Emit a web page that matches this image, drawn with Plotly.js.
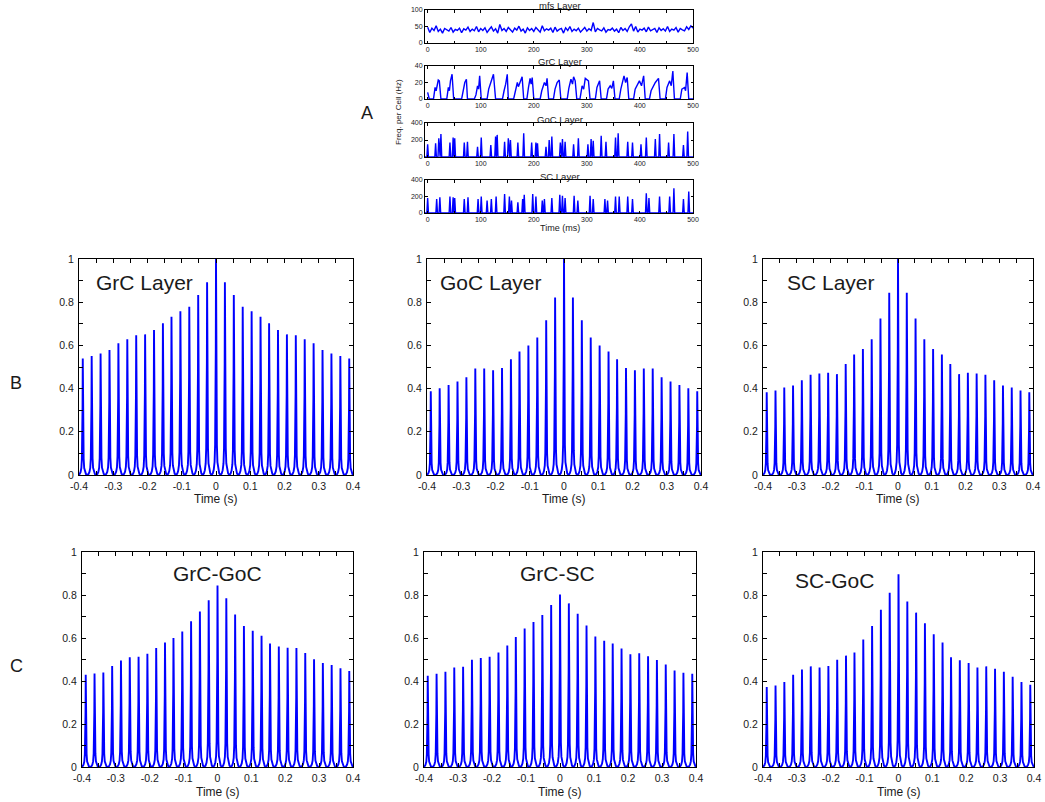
<!DOCTYPE html>
<html>
<head>
<meta charset="utf-8">
<script src="https://cdn.plot.ly/plotly-3.0.1.min.js"></script>
<style>html,body{margin:0;padding:0;background:#fff;}#chart{width:1045px;height:802px;}</style>
</head>
<body>
<div id="chart"></div>
<script>
// ---------------- DATA ----------------
// Panel A: mossy fibre input (Hz), sampled every 4 ms from 0 to 500 ms
const mfsSampleMs = 4;
const mfsRate = [48,32,45,38,52,35,42,30,44,40,36,47,33,41,38,45,31,43,39,48,35,42,37,50,34,44,
  38,46,32,41,49,36,43,30,56,38,44,35,47,40,33,45,39,51,36,42,30,46,38,44,35,
  47,40,33,52,37,43,39,45,32,48,36,41,44,30,46,38,50,35,42,37,45,33,40,47,36,
  43,38,62,34,44,40,37,46,33,41,39,45,36,42,31,47,38,44,35,49,58,36,50,33,42,
  39,45,34,48,37,41,44,32,46,38,43,36,50,35,42,39,47,33,44,40,37,49,41,52,45];

// Panel A: GrC layer population rate (vertex times in ms, rates in Hz)
const grcTimes = [0,3, 11,14,16,18,20,22,25, 36,39,41,43,46,47,49, 64,67,70,73,75, 88,91,94,96,98,101,
  112,115,119,124,128, 141,144,147,150,152, 162,165,169,171,175,178,181, 187,190,193,195,197,200,
  212,215,220,223,225,228, 237,240,244,248,251, 263,266,270,273,275,278,281, 287,291,294,297,303,306,
  316,319,324,327, 337,340,344,347,350,353, 361,364,370,373,376,379, 388,391,396,399,403,407,410,
  418,421,425,429,435,438, 448,451,456,459,462,465, 476,479,484,486,489,492, 500];
const grcRates = [8,0, 0,14,10,20,23,22,0, 0,14,10,22,30,12,0, 0,10,20,24,0, 0,5,16,12,28,0,
  0,12,20,30,0, 0,10,18,30,0, 0,10,20,15,22,27,0, 0,14,25,18,26,0,
  0,10,20,16,25,0, 0,12,20,23,0, 0,13,24,18,27,22,0, 0,16,12,25,22,0,
  0,14,22,0, 0,12,16,13,22,0, 0,12,28,20,26,0, 0,12,18,22,16,28,0,
  0,10,16,20,25,0, 0,14,22,16,34,0, 0,12,14,10,32,0, 0];

// Panel A: GoC layer spikes (ms, Hz)
const gocSpikeTimes = [0,15,21,25,42,48,51,69,75,94,101,119,128,131,145,152,156,170,181,196,204,207,223,229,234,250,254,259,275,284,302,308,312,327,336,354,359,377,386,402,412,429,437,454,464,482,490];
const gocSpikeRates = [150,160,220,270,170,230,220,170,180,120,230,140,240,260,180,220,200,170,280,170,170,160,120,200,240,170,210,180,150,220,150,210,190,250,180,230,280,180,170,150,230,210,270,170,270,140,300];

// Panel A: SC layer spikes (ms, Hz)
const scSpikeTimes = [0,17,23,42,48,51,69,76,95,101,112,120,129,145,154,158,170,179,182,198,204,216,220,234,249,254,259,276,283,306,312,334,339,354,361,377,386,412,417,437,456,464,482,492];
const scSpikeRates = [180,170,190,200,190,180,170,190,170,200,150,170,200,230,200,150,130,170,220,230,200,150,170,180,220,210,180,210,150,210,170,170,150,200,200,200,170,240,180,200,200,300,170,260];

// Panels B/C: correlogram peak lags (s)
const peakLags = [-0.389,-0.363,-0.337,-0.311,-0.285,-0.259,-0.233,-0.207,-0.181,-0.155,-0.130,-0.104,-0.078,-0.052,-0.026,0,
  0.026,0.052,0.078,0.104,0.130,0.155,0.181,0.207,0.233,0.259,0.285,0.311,0.337,0.363,0.389];

// Panel B: autocorrelation peak heights
const grcAuto = [0.539,0.551,0.563,0.579,0.610,0.628,0.647,0.651,0.671,0.702,0.733,0.758,0.779,0.833,0.892,1.0,0.892,0.833,0.779,0.758,0.733,0.702,0.671,0.651,0.647,0.628,0.610,0.579,0.563,0.551,0.539];
const gocAuto = [0.388,0.402,0.417,0.433,0.453,0.493,0.493,0.485,0.495,0.536,0.572,0.600,0.637,0.716,0.822,1.0,0.822,0.716,0.637,0.600,0.572,0.536,0.495,0.485,0.493,0.493,0.453,0.433,0.417,0.402,0.388];
const scAuto  = [0.383,0.391,0.405,0.414,0.439,0.464,0.470,0.473,0.467,0.514,0.558,0.583,0.629,0.724,0.844,1.0,0.844,0.724,0.629,0.583,0.558,0.514,0.467,0.473,0.470,0.464,0.439,0.414,0.405,0.391,0.383];

// Panel C: cross-correlation peak heights
const grcGocCross = [0.429,0.435,0.439,0.470,0.495,0.510,0.513,0.527,0.554,0.579,0.600,0.630,0.678,0.723,0.776,0.844,0.785,0.709,0.656,0.634,0.611,0.574,0.560,0.555,0.554,0.530,0.501,0.484,0.474,0.459,0.446];
const grcScCross  = [0.424,0.434,0.443,0.463,0.466,0.499,0.507,0.513,0.532,0.565,0.605,0.644,0.674,0.707,0.754,0.802,0.761,0.713,0.658,0.607,0.587,0.574,0.551,0.524,0.529,0.515,0.498,0.477,0.449,0.438,0.434];
const scGocCross  = [0.372,0.379,0.395,0.429,0.453,0.468,0.463,0.470,0.499,0.518,0.533,0.593,0.656,0.731,0.810,0.897,0.770,0.718,0.669,0.617,0.579,0.510,0.496,0.484,0.463,0.468,0.457,0.443,0.420,0.395,0.383];

// Tick labels
const lagTickVals = [-0.4,-0.35,-0.3,-0.25,-0.2,-0.15,-0.1,-0.05,0,0.05,0.1,0.15,0.2,0.25,0.3,0.35,0.4];
const lagTickText = ['-0.4','','-0.3','','-0.2','','-0.1','','0','','0.1','','0.2','','0.3','','0.4'];
const corrTickVals = [0,0.1,0.2,0.3,0.4,0.5,0.6,0.7,0.8,0.9,1];
const corrTickText = ['0','','0.2','','0.4','','0.6','','0.8','','1'];
const msTickVals = [0,50,100,150,200,250,300,350,400,450,500];
const msTickText = ['0','','100','','200','','300','','400','','500'];

const panelTitlesB = ['GrC Layer','GoC Layer','SC Layer'];
const panelTitlesC = ['GrC-GoC','GrC-SC','SC-GoC'];
const layerTitlesA = ['mfs Layer','GrC Layer','GoC Layer','SC Layer'];

// ---------------- STYLE / LAYOUT ----------------
const W = 1045, H = 802;
const FONT = 'Liberation Sans, Arial, Helvetica, sans-serif';
const BLUE = '#0000ff';
const TXT = '#1a1a1a';
const px = v => v / W;
const py = v => 1 - v / H;
const xdom = (l, r) => [px(l), px(r)];
const ydom = (t, b) => [py(b), py(t)];

// spike shape template (fraction of peak spacing, fraction of height)
const SPIKE_PERIOD = 0.0259;
const PROFILE_DT = [-0.5,-0.36,-0.25,-0.16,-0.1,-0.055,-0.025,0,0.025,0.055,0.1,0.16,0.25,0.36];
const PROFILE_F  = [0,0.008,0.025,0.06,0.14,0.3,0.58,1,0.58,0.3,0.14,0.06,0.025,0.008];

function correlogram(lags, heights) {
  const x = [], y = [];
  for (let i = 0; i < lags.length; i++) {
    for (let j = 0; j < PROFILE_DT.length; j++) {
      x.push(lags[i] + PROFILE_DT[j] * SPIKE_PERIOD);
      y.push(heights[i] * PROFILE_F[j]);
    }
  }
  x.push(lags[lags.length - 1] + 0.5 * SPIKE_PERIOD); y.push(0);
  return {x, y};
}

const SPIKE_HW = 1.5; // ms
function spikes(times, rates) {
  const x = [], y = [];
  x.push(-5); y.push(0);
  for (let i = 0; i < times.length; i++) {
    x.push(times[i] - SPIKE_HW, times[i], times[i] + SPIKE_HW);
    y.push(0, rates[i], 0);
  }
  x.push(500); y.push(0);
  return {x, y};
}

const traces = [];
const layout = {
  width: W, height: H, autosize: false,
  margin: {l: 0, r: 0, t: 0, b: 0},
  paper_bgcolor: '#fff', plot_bgcolor: '#fff',
  showlegend: false,
  font: {family: FONT, color: TXT},
  annotations: []
};

function axisBase(dom, range, tv, tt, fs, anchor, standoff) {
  return {domain: dom, range: range, tickvals: tv, ticktext: tt, ticks: 'inside', ticklen: fs > 9 ? 4 : 2.5,
    tickcolor: '#000', tickwidth: 1, showline: true, linecolor: '#000', linewidth: 1, mirror: 'ticks',
    showgrid: false, zeroline: false, anchor: anchor, fixedrange: true,
    tickfont: {family: FONT, size: fs, color: TXT}, ticklabelstandoff: standoff};
}

let idx = 0;
function addPanel(xd, yd, xr, yr, xtv, xtt, ytv, ytt, fs, data, lw, xStand, yStand) {
  idx++;
  const xs = idx === 1 ? 'x' : 'x' + idx;
  const ys = idx === 1 ? 'y' : 'y' + idx;
  const xk = idx === 1 ? 'xaxis' : 'xaxis' + idx;
  const yk = idx === 1 ? 'yaxis' : 'yaxis' + idx;
  layout[xk] = axisBase(xd, xr, xtv, xtt, fs, ys, xStand);
  layout[yk] = axisBase(yd, yr, ytv, ytt, fs, xs, yStand);
  traces.push({type: 'scatter', mode: 'lines', x: data.x, y: data.y, xaxis: xs, yaxis: ys,
    line: {color: BLUE, width: lw}, hoverinfo: 'skip'});
}

function ann(text, x, y, size, opts) {
  layout.annotations.push(Object.assign({text: text, x: px(x), y: py(y), xref: 'paper', yref: 'paper',
    showarrow: false, xanchor: 'center', yanchor: 'middle', font: {family: FONT, size: size, color: TXT}}, opts || {}));
}

// ----- Panel A -----
const mfsTimes = mfsRate.map((_, i) => i * mfsSampleMs);
const aX = xdom(425, 693);
const aBoxes = [[10, 43], [66, 99], [123, 157], [180, 213]];
const aRanges = [[0, 100], [0, 40], [0, 400], [0, 400]];
const aTicks = [[0, 50, 100], [0, 20, 40], [0, 200, 400], [0, 200, 400]];
const aData = [
  {x: mfsTimes, y: mfsRate},
  {x: grcTimes, y: grcRates},
  spikes(gocSpikeTimes, gocSpikeRates),
  spikes(scSpikeTimes, scSpikeRates)
];
for (let i = 0; i < 4; i++) {
  addPanel(aX, ydom(aBoxes[i][0], aBoxes[i][1]), [-5, 500], aRanges[i], msTickVals, msTickText,
    aTicks[i], aTicks[i].map(String), 7, aData[i], 1.4, 0, 0);
  ann(layerTitlesA[i], 560, aBoxes[i][0] - 4, 9.5);
}
ann('Freq. per Cell (Hz)', 399, 112, 8, {textangle: -90});
ann('Time (ms)', 560, 228, 9);
ann('A', 367, 113, 18);

// ----- Panels B and C -----
const bcX = [[79, 353], [427, 701], [763, 1033]];
const bY = [259, 475];
const cY = [552, 767];
const bData = [grcAuto, gocAuto, scAuto];
const cData = [grcGocCross, grcScCross, scGocCross];
const bTitlePos = [[144, 283], [491, 283], [831, 283]];
const cTitlePos = [[217, 573], [557, 573], [834, 580]];
for (let i = 0; i < 3; i++) {
  addPanel(xdom(bcX[i][0], bcX[i][1]), ydom(bY[0], bY[1]), [-0.4, 0.4], [0, 1],
    lagTickVals, lagTickText, corrTickVals, corrTickText, 10.5, correlogram(peakLags, bData[i]), 1.9, 1, 2);
  ann(panelTitlesB[i], bTitlePos[i][0], bTitlePos[i][1], 21);
  ann('Time (s)', (bcX[i][0] + bcX[i][1]) / 2, 499, 12);
}
const cX = [[82, 353], [424, 696], [763, 1034]];
for (let i = 0; i < 3; i++) {
  addPanel(xdom(cX[i][0], cX[i][1]), ydom(cY[0], cY[1]), [-0.4, 0.4], [0, 1],
    lagTickVals, lagTickText, corrTickVals, corrTickText, 10.5, correlogram(peakLags, cData[i]), 1.9, 1, 2);
  ann(panelTitlesC[i], cTitlePos[i][0], cTitlePos[i][1], 21);
  ann('Time (s)', (cX[i][0] + cX[i][1]) / 2, 792, 12);
}
ann('B', 16, 383, 18);
ann('C', 16, 666, 18);

Plotly.newPlot('chart', traces, layout, {staticPlot: true, displayModeBar: false});
</script>
</body>
</html>
